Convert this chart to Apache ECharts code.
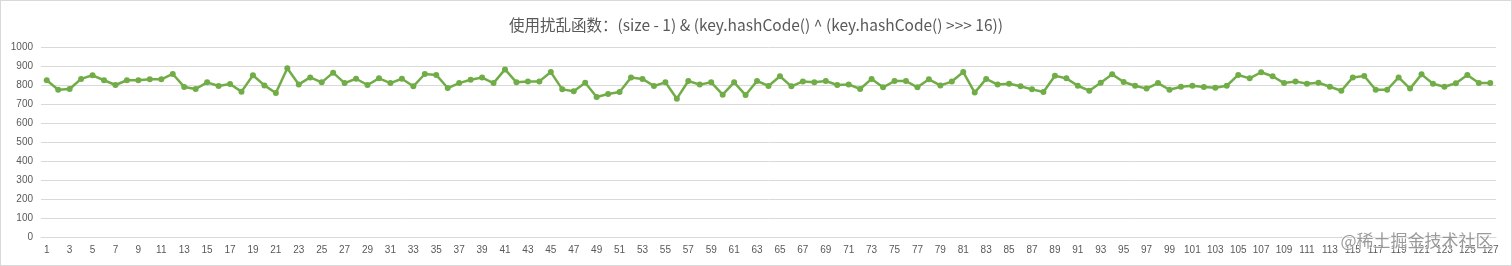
<!DOCTYPE html>
<html>
<head>
<meta charset="utf-8">
<script src="https://cdn.jsdelivr.net/npm/echarts@6/dist/echarts.min.js"></script>
<style>
html,body{margin:0;padding:0;background:#fff;}
#c{width:1512px;height:266px;box-sizing:border-box;border:1px solid #d9d9d9;}
</style>
</head>
<body>
<div id="c"></div>
<script>
const titleText = '使用扰乱函数：(size - 1) & (key.hashCode() ^ (key.hashCode() >>> 16))';
const categories = Array.from({length:127}, (_, i) => String(i + 1));
const values = [
825,775,779,832,851,825,800,825,825,830,830,858,790,779,814,795,805,765,851,798,
758,888,803,840,814,865,810,833,800,835,810,833,793,858,853,784,810,828,839,810,
882,814,819,819,868,777,767,812,737,753,763,840,832,795,814,728,821,802,814,749,
814,747,821,795,846,793,819,814,821,800,803,779,832,788,821,821,788,830,798,818,
868,760,832,802,807,793,777,763,849,835,796,770,812,856,816,796,781,810,775,791,
796,789,786,796,853,835,867,846,810,819,807,812,791,770,840,847,775,775,840,781,
856,807,791,809,853,810,810
];
const yTicks = {min:0, max:1000, interval:100};
const watermark = '@稀土掘金技术社区';

const chart = echarts.init(document.getElementById('c'));
chart.setOption({
  animation:false,
  title:{text:titleText,left:'center',top:11,textStyle:{fontSize:15.5,fontWeight:'normal',color:'#595959',fontFamily:'"Noto Sans CJK SC", "Noto Sans", sans-serif'}},
  grid:{left:40,right:15,top:46,bottom:28,containLabel:false},
  xAxis:{type:'category',data:categories,boundaryGap:true,
    axisLine:{lineStyle:{color:'#d9d9d9'}},axisTick:{show:false},
    axisLabel:{interval:1,color:'#595959',fontSize:10,margin:8,fontFamily:'"Liberation Sans", sans-serif'}},
  yAxis:{type:'value',min:yTicks.min,max:yTicks.max,interval:yTicks.interval,
    axisLine:{show:false},axisTick:{show:false},
    splitLine:{lineStyle:{color:'#d9d9d9'}},
    axisLabel:{color:'#595959',fontSize:10,margin:8,fontFamily:'"Liberation Sans", sans-serif',formatter:function(v){return String(v);}}},
  series:[{type:'line',data:values,symbol:'circle',symbolSize:6,
    lineStyle:{color:'#70AD47',width:2.5},itemStyle:{color:'#70AD47'}}],
  graphic:[{type:'text',left:1339,top:231,z:100,style:{text:watermark,fill:'rgba(120,120,120,0.75)',stroke:'rgba(255,255,255,0.8)',lineWidth:1,font:'17px "Noto Sans CJK SC", sans-serif'}}]
});
</script>
</body>
</html>
